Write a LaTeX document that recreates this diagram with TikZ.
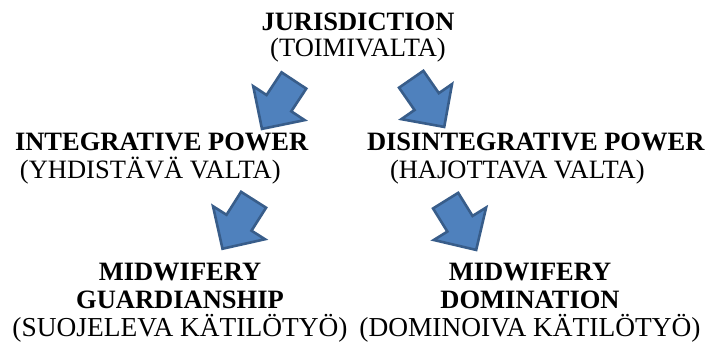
\documentclass[tikz,border=0pt]{standalone}
\usepackage{fontspec}
\setmainfont{Liberation Serif}
\usetikzlibrary{shapes.arrows}
\definecolor{arr_fill}{RGB}{79, 129, 189}
\definecolor{arr_line}{RGB}{56, 93, 138}
\tikzstyle{lbl}=[inner sep=0pt,outer sep=0pt,
  font=\fontsize{26.5}{28}\selectfont]
\tikzstyle{barr}=[single arrow,fill=arr_fill,draw=arr_line,line width=2.6pt,
  minimum height=58pt,minimum width=0pt,single arrow head extend=16pt,
  single arrow tip angle=90,inner xsep=0pt,inner ysep=13.5pt]
\newcommand{\sub}[1]{{\fontsize{27.4}{28}\selectfont #1}}
\begin{document}
\begin{tikzpicture}[x=1pt,y=-1pt]
        \useasboundingbox (0,0) rectangle (706,343);
        \node [style=lbl,anchor=north,align=center,
          font=\fontsize{26.5}{25.5}\selectfont] (jur) at (358,13)
          {\textbf{JURISDICTION}\\(TOIMIVALTA)};
        \node [style=lbl,anchor=north west,align=left] (intp) at (15,133)
          {\textbf{INTEGRATIVE POWER}\\\hspace*{5pt}(YHDISTÄVÄ VALTA)};
        \node [style=lbl,anchor=north west,align=left] (disp) at (367,133)
          {\textbf{DISINTEGRATIVE POWER}\\\hspace*{23pt}(HAJOTTAVA VALTA)};
        \node [style=lbl,anchor=north,align=center] (guard) at (180,263)
          {\textbf{MIDWIFERY}\\\textbf{GUARDIANSHIP}\\\sub{(SUOJELEVA KÄTILÖTYÖ)}};
        \node [style=lbl,anchor=north,align=center] (domi) at (530,263)
          {\textbf{MIDWIFERY}\\\textbf{DOMINATION}\\\sub{(DOMINOIVA KÄTILÖTYÖ)}};
        \node [style=barr,rotate=-123.4] (a_ji) at (282,98.5) {};
        \node [style=barr,rotate=-55.3] (a_jd) at (423.5,97) {};
        \node [style=barr,rotate=-122.4] (a_ig) at (242,218) {};
        \node [style=barr,rotate=-58.2] (a_dd) at (457,219) {};
    \end{tikzpicture}
\end{document}
